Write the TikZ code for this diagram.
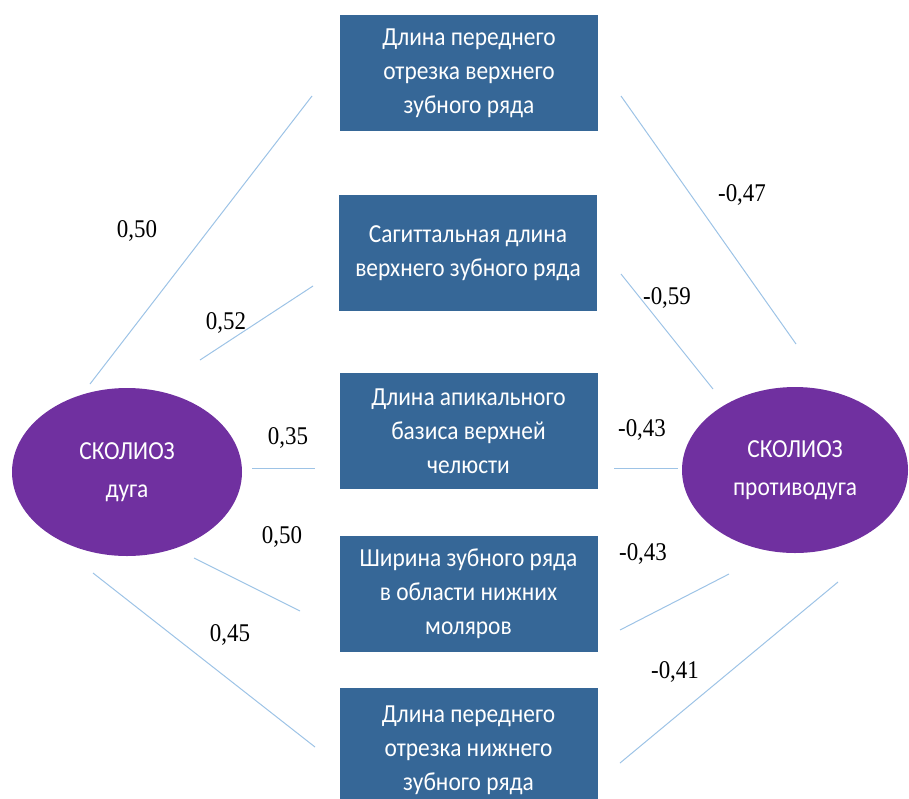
\documentclass[tikz,border=0pt]{standalone}
\usepackage{fontspec}
\setmainfont{Liberation Serif}
\newfontfamily\boxfont[FakeStretch=0.9]{Carlito}
\newfontfamily\coeffont[FakeStretch=0.9]{Liberation Serif}
\usetikzlibrary{shapes.geometric}
\definecolor{boxblue}{RGB}{54,103,151}
\definecolor{purp}{RGB}{112,48,160}
\definecolor{lineblue}{RGB}{157,195,230}
\tikzset{
  varbox/.style={rectangle, fill=boxblue, text=white, minimum width=258pt, minimum height=116pt, inner sep=0pt, align=center, font=\boxfont\fontsize{26}{34}\selectfont},
  scol/.style={ellipse, fill=purp, text=white, minimum width=230pt, minimum height=168pt, inner sep=0pt, align=center, font=\boxfont\fontsize{26}{38}\selectfont},
  link/.style={draw=lineblue, line width=1pt},
  coef/.style={font=\coeffont\fontsize{25.5}{26}\selectfont, inner sep=0pt}
}
\begin{document}
\begin{tikzpicture}[x=1pt,y=-1pt]
\useasboundingbox (0,0) rectangle (909,798);
\clip (0,0) rectangle (909,798);
\node[varbox] (b1) at (469,73) {Длина переднего\\отрезка верхнего\\зубного ряда};
\node[varbox] (b2) at (468,253) {Сагиттальная длина\\верхнего зубного ряда};
\node[varbox] (b3) at (468.5,431) {Длина апикального\\базиса верхней\\челюсти};
\node[varbox] (b4) at (468.5,593.5) {Ширина зубного ряда\\в области нижних\\моляров};
\node[varbox, minimum height=124pt] (b5) at (468.5,750) {Длина переднего\\отрезка нижнего\\зубного ряда};
\node[scol] (L) at (127,472) {СКОЛИОЗ\\дуга};
\node[scol, minimum width=226pt, minimum height=166pt] (R) at (795,470) {СКОЛИОЗ\\противодуга};
% free ends of connectors
\coordinate (l1a) at (90,384); \coordinate (l1b) at (312,96);
\coordinate (l2a) at (200,360); \coordinate (l2b) at (313,286);
\coordinate (l3a) at (252,468); \coordinate (l3b) at (315,468);
\coordinate (l4a) at (194,558); \coordinate (l4b) at (300,611);
\coordinate (l5a) at (93,573); \coordinate (l5b) at (315,747);
\coordinate (r1a) at (621,96); \coordinate (r1b) at (796,344);
\coordinate (r2a) at (621,274); \coordinate (r2b) at (713,389);
\coordinate (r3a) at (614,468); \coordinate (r3b) at (678,468);
\coordinate (r4a) at (620,630); \coordinate (r4b) at (729,574);
\coordinate (r5a) at (620,763); \coordinate (r5b) at (838,582);
\draw[link] (l1a) -- (l1b);
\draw[link] (l2a) -- (l2b);
\draw[link] (l3a) -- (l3b);
\draw[link] (l4a) -- (l4b);
\draw[link] (l5a) -- (l5b);
\draw[link] (r1a) -- (r1b);
\draw[link] (r2a) -- (r2b);
\draw[link] (r3a) -- (r3b);
\draw[link] (r4a) -- (r4b);
\draw[link] (r5a) -- (r5b);
\node[coef] (c1) at (137,231) {0,50};
\node[coef] (c2) at (226,323) {0,52};
\node[coef] (c3) at (288,438) {0,35};
\node[coef] (c4) at (282,537) {0,50};
\node[coef] (c5) at (230,635) {0,45};
\node[coef] (c6) at (742,195) {-0,47};
\node[coef] (c7) at (667,298) {-0,59};
\node[coef] (c8) at (642,430) {-0,43};
\node[coef] (c9) at (643,554) {-0,43};
\node[coef] (c10) at (675,672) {-0,41};
\end{tikzpicture}
\end{document}
